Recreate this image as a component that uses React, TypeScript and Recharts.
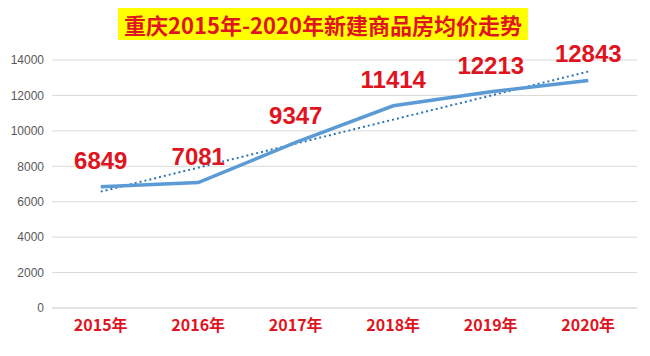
import React from 'react';
import { LineChart, Line, XAxis, YAxis, CartesianGrid, LabelList, ReferenceLine } from 'recharts';

const years = ['2015年', '2016年', '2017年', '2018年', '2019年', '2020年'];
const prices = [6849, 7081, 9347, 11414, 12213, 12843];
const yTicks = [0, 2000, 4000, 6000, 8000, 10000, 12000, 14000];
const trendStart = 6570;
const trendEnd = 13346;
const title = '重庆2015年-2020年新建商品房均价走势';

const data = years.map((year, i) => ({ year, price: prices[i] }));

const RED = '#E0141E';

export default function App() {
  return (
    <div style={{ position: 'absolute', left: 0, top: 0, width: 650, height: 356, background: '#fff' }}>
      <LineChart width={650} height={356} data={data} margin={{ top: 60, right: 13, bottom: 18, left: 0 }}>
        <CartesianGrid vertical={false} stroke="#d9d9d9" />
        <XAxis
          dataKey="year"
          height={30}
          padding={{ left: 48.75, right: 48.75 }}
          axisLine={{ stroke: '#d9d9d9' }}
          tickLine={false}
          tickSize={0}
          tickMargin={12}
          tick={{ fill: RED, fontSize: 16, fontWeight: 'bold', fontFamily: '"Noto Sans CJK SC", "Liberation Sans", sans-serif' }}
        />
        <YAxis
          width={52}
          domain={[0, 14000]}
          ticks={yTicks}
          axisLine={false}
          tickLine={false}
          tickSize={0}
          tickMargin={8}
          tick={{ fill: '#595959', fontSize: 12, fontFamily: '"Liberation Sans", sans-serif' }}
        />
        <ReferenceLine
          segment={[{ x: years[0], y: trendStart }, { x: years[years.length - 1], y: trendEnd }]}
          stroke="#2E75B6"
          strokeWidth={2}
          strokeDasharray="2 3"
          ifOverflow="visible"
        />
        <Line
          type="linear"
          dataKey="price"
          stroke="#5B9BD5"
          strokeWidth={3.5}
          dot={false}
          activeDot={false}
          isAnimationActive={false}
        >
          <LabelList
            dataKey="price"
            position="top"
            offset={18}
            fill={RED}
            fontSize={24}
            fontWeight="bold"
            fontFamily='"Liberation Sans", sans-serif'
          />
        </Line>
      </LineChart>
      <div
        style={{
          position: 'absolute',
          left: 118,
          top: 8,
          width: 410,
          height: 32,
          background: '#FFFF00',
          color: RED,
          fontFamily: '"Noto Sans CJK SC", sans-serif',
          fontWeight: 'bold',
          fontSize: 22,
          lineHeight: '32px',
          textAlign: 'center',
          whiteSpace: 'nowrap',
        }}
      >
        {title}
      </div>
    </div>
  );
}
